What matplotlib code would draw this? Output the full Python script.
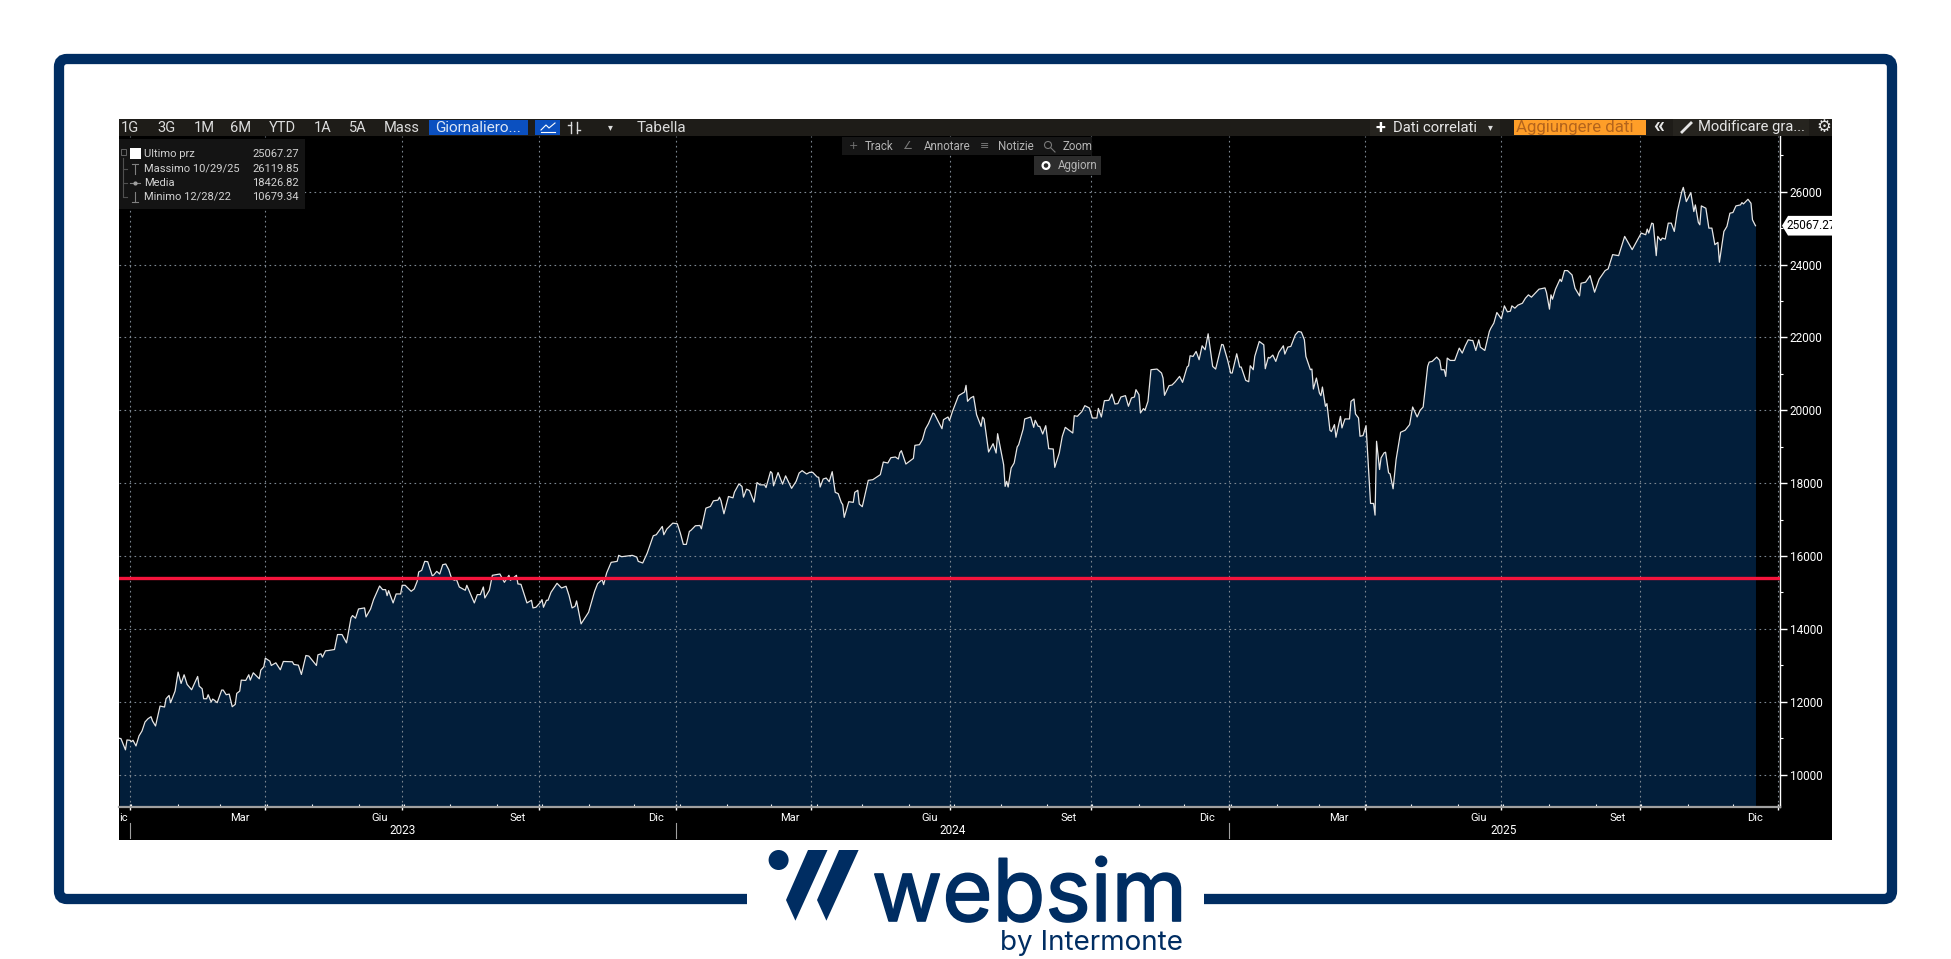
from datetime import date, timedelta
import matplotlib
matplotlib.use('Agg')
import matplotlib.pyplot as plt
import matplotlib.dates as mdates
import matplotlib.patheffects as pe
from matplotlib.patches import Rectangle, Polygon, Circle, FancyBboxPatch
from matplotlib.transforms import blended_transform_factory

# days since 2022-12-31 and index close
days = [-7, -6, -3, -2, 0, 1, 2, 4, 6, 8, 10, 12, 14, 15, 17, 20, 23, 24, 26, 27, 30, 32, 34, 36, 38, 41, 45, 46, 48, 49,
        51, 52, 54, 55, 56, 58, 61, 62, 64, 66, 68, 70, 71, 73, 74, 77, 79, 80, 82, 86, 87, 89, 90, 93, 94, 97, 100, 102,
        108, 109, 112, 114, 117, 119, 124, 125, 127, 128, 130, 132, 136, 138, 141, 144, 147, 148, 150, 152, 156, 157,
        160, 162, 166, 168, 170, 171, 172, 175, 177, 180, 181, 183, 187, 189, 191, 192, 194, 196, 198, 201, 202, 204,
        206, 208, 210, 212, 214, 216,
        217, 219, 223, 224, 229, 231, 233, 235, 236, 239, 241, 246, 249, 252, 253, 257, 258, 260, 264, 267, 268, 270,
        273, 274, 275, 277, 278, 280, 284, 287, 290, 292, 294, 296, 297, 300, 305, 309, 311, 314, 315, 317, 320, 324,
        325, 327, 334, 337, 338, 341, 344, 348, 350, 354, 355, 357, 361, 364, 366, 368, 370, 372, 373, 376, 379, 380,
        383, 386, 388, 391, 392, 393, 395, 398, 401, 402, 405, 407, 408, 410, 412, 415, 417, 419, 422, 423, 426, 427,
        428, 431, 434, 436,
        440, 443, 445, 447, 450, 452, 454, 457, 458, 459, 461, 463, 465, 467, 469, 471, 473, 474, 475, 478, 481, 482,
        484, 485, 487, 491, 494, 499, 501, 504, 506, 509, 511, 512, 513, 516, 521, 522, 525, 527, 529, 531, 534, 535,
        540, 541, 544, 545, 547, 551, 555, 556, 557, 559, 561, 563, 566, 567, 568, 571, 574, 576, 577, 581, 582, 583,
        584, 586, 588, 590, 591, 594, 595, 599, 601, 602, 604, 605, 607, 609, 611, 614, 615, 618, 620, 622, 627, 628,
        630, 633, 635, 638, 640, 643, 644, 646, 648, 651, 653,
        655, 657, 659, 662, 664, 666, 668, 669, 671, 672, 674, 675, 677, 679, 683, 686, 687, 688, 691, 693, 695, 698,
        700, 703, 704, 705, 707, 709, 711, 713, 715, 717, 720, 722, 726, 727, 730, 732, 733, 736, 738, 739, 742, 744,
        745, 747, 748, 751, 754, 755, 757, 758, 760, 762, 764, 767, 768, 770, 772, 775, 777, 779, 781, 782, 785, 786,
        787, 789, 791, 792, 793, 795, 796, 798, 799, 801, 802,
        805, 806, 808, 811, 812, 814, 815, 817, 818, 820, 822, 825, 827, 828, 829, 831, 832, 834, 835, 837, 838, 840,
        842, 845, 848, 851, 853, 856, 858, 860, 863, 864, 866, 869, 871, 872, 874, 875, 876, 878, 881, 884, 886, 888,
        890, 892, 893, 895, 897, 898, 901, 904, 905,
        907, 909, 912, 914, 916, 918, 919, 921, 923, 926, 928, 930, 932, 937, 941, 942, 944, 945, 946, 948, 951, 952,
        954, 956, 959, 961, 964, 965, 968, 971, 974, 977, 981,
        983, 986, 990, 994, 999, 1005, 1008, 1009, 1010, 1012, 1013, 1015, 1016, 1018, 1019, 1021, 1023, 1025, 1027,
        1029, 1032, 1033, 1035, 1038, 1040, 1041, 1043, 1044, 1045, 1048, 1050, 1052, 1054, 1056, 1057, 1060, 1062,
        1064, 1066, 1068, 1071, 1072, 1073, 1076, 1078, 1079, 1081]
values = [10996, 10987, 10679, 10950, 10941, 10904, 10941, 10786, 11060, 11197, 11443, 11534, 11589, 11470, 11334, 11881,
          11854, 12082, 12173, 11973, 12292, 12813, 12502, 12740, 12475, 12329, 12694, 12429, 12356, 12082, 12082, 12192,
          11991, 12073, 12046, 11973, 12320, 12320, 12192, 12210, 11863, 11927, 12228, 12292, 12593, 12584, 12740, 12593,
          12794, 12630, 12867, 12959, 13196, 13114, 12995, 13068, 12877, 13105, 13096, 13023, 13004, 12749, 13269, 13251,
          12995, 13287, 13315, 13223, 13397, 13406, 13433, 13844, 13844, 13616, 14301, 14365, 14292, 14547, 14575, 14328,
          14547, 14803, 15177, 15077, 15077, 14912, 15049, 14712, 14958, 14958, 15196, 15196, 15031, 15095, 15305, 15561,
          15606, 15853, 15844, 15460, 15478, 15579, 15506, 15762, 15780, 15625, 15369, 15333,
          15370, 15150, 15059, 15196, 14712, 14940, 14940, 15150, 14849, 15059, 15470, 15506, 15278, 15470, 15333, 15470,
          15233, 15223, 14712, 14785, 14575, 14593, 14730, 14803, 14593, 14785, 14785, 15004, 15251, 15123, 15169, 14913,
          14575, 14620, 14767, 14137, 14456, 15032, 15242, 15351, 15214, 15534, 15826, 15853, 16018, 15981, 16018, 15972,
          15853, 15808, 16082, 16556, 16584, 16812, 16584, 16739, 16903, 16885, 16629, 16319, 16319, 16675, 16702, 16830,
          16839, 16748, 17314, 17360, 17515, 17533, 17616, 17524, 17159, 17634, 17597, 17752, 17981, 17908, 17616, 17835,
          17798, 17479, 18017, 17953, 17953, 17880, 18319, 18273, 17926, 18291, 17972, 18200,
          17857, 18050, 18278, 18342, 18251, 18297, 18297, 18169, 18160, 17894, 18114, 18141, 18040, 18315, 17748, 17711,
          17473, 17409, 17061, 17491, 17473, 17748, 17803, 17427, 17354, 18077, 18095, 18233, 18580, 18553, 18699, 18718,
          18663, 18837, 18891, 18525, 18681, 19038, 19056, 19193, 19486, 19633, 19925, 19898, 19495, 19742, 19816, 19715,
          19971, 20401, 20502, 20685, 20246, 20337, 20383, 19880, 19559, 19816, 19761, 18855, 19084, 18827, 19358, 18507,
          17912, 18050, 17894, 18416, 18553, 18992, 19056, 19486, 19761, 19816, 19532, 19724, 19559, 19559, 19349, 19578,
          18946, 18937, 18434, 18827, 19285, 19532, 19376, 19852, 19834, 19962, 20127, 20063, 19788, 19788, 20053, 19816,
          20264, 20273, 20447,
          20173, 20183, 20365, 20402, 20110, 20338, 20365, 20566, 20429, 19927, 20046, 20000, 20247, 21114, 21132, 21023,
          20886, 20411, 20676, 20694, 20776, 20931, 20767, 21187, 21223, 21497, 21479, 21616, 21388, 21771, 21662, 22100,
          21205, 21132, 21808, 21799, 21370, 21023, 21023, 21552, 21187, 21187, 20822, 20785, 21223, 21114, 21479, 21890,
          21799, 21141, 21452, 21433, 21516, 21342, 21589, 21771, 21543, 21735, 21753, 22073, 22164, 22146, 21936, 21479,
          21114, 21132, 20584, 20886, 20475, 20402, 20639, 20110, 20183, 19452, 19416, 19607, 19260,
          19835, 19516, 19762, 19762, 20246, 20310, 19899, 19789, 19287, 19306, 19579, 17443, 17443, 17123, 19150, 18374,
          18694, 18831, 18849, 18283, 18256, 17845, 18648, 19397, 19452, 19607, 20091, 19817, 20000, 20091, 21205, 21323,
          21342, 21460, 21369, 21113, 21113, 20931, 21433, 21369, 21369, 21707, 21570, 21771, 21935, 21917, 21917, 21643,
          21935, 21734, 21643, 22163, 22254,
          22393, 22685, 22511, 22867, 22703, 22721, 22867, 22803, 22886, 22940, 23077, 23169, 23105, 23324, 23360, 23233,
          22776, 23169, 23050, 23324, 23598, 23534, 23835, 23835, 23716, 23351, 23141, 23488, 23516, 23698, 23242, 23598,
          23835,
          23882, 24273, 24246, 24774, 24410, 24865, 24819, 24974, 24865, 25138, 25119, 24246, 24774, 24664, 24728, 24701,
          25138, 25138, 24910, 25456, 26002, 26120, 25729, 25975, 25456, 25638, 25156, 25092, 25611, 25547, 25001, 25001,
          24546, 24610, 24064, 24910, 25047, 25411, 25429, 25611, 25638, 25702, 25665, 25793, 25684, 25229, 25067]
level_red = 15400
last_price = 25067.27

y_ticks = [10000, 12000, 14000, 16000, 18000, 20000, 22000, 24000, 26000]
quarter_ends = ['2023-03-31', '2023-06-30', '2023-09-29', '2023-12-29', '2024-03-28', '2024-06-28',
                '2024-09-30', '2024-12-31', '2025-03-31', '2025-06-30', '2025-09-30', '2025-12-31']
month_labels = ['Mar', 'Giu', 'Set', 'Dic', 'Mar', 'Giu', 'Set', 'Dic', 'Mar', 'Giu', 'Set', 'Dic']
month_label_days = ['2023-03-14', '2023-06-15', '2023-09-15', '2023-12-16', '2024-03-14', '2024-06-15',
                    '2024-09-15', '2024-12-16', '2025-03-14', '2025-06-15', '2025-09-15', '2025-12-16']
years = ['2023', '2024', '2025']
year_ends = ['2022-12-31', '2023-12-29', '2024-12-31', '2025-12-31']
range_buttons = ['1G', '3G', '1M', '6M', 'YTD', '1A', '5A', 'Mass']
legend_names = ['Ultimo prz', 'Massimo 10/29/25', 'Media', 'Minimo 12/28/22']
legend_values = ['25067.27', '26119.85', '18426.82', '10679.34']

NAVY = '#002d62'
FILL = '#021e3a'
FONT = 'Roboto'
W, H = 1951, 959

plt.rcParams['font.family'] = [FONT, 'DejaVu Sans']
fig = plt.figure(figsize=(W / 100, H / 100), dpi=100, facecolor='white')


def num(s):
    return mdates.date2num(date.fromisoformat(s))


# layer under the plot, pixel coordinates
back = fig.add_axes([0, 0, 1, 1], zorder=0)
back.set_xlim(0, W)
back.set_ylim(H, 0)
back.axis('off')
back.add_patch(Rectangle((119, 119), 1832 - 119, 840 - 119, color='black', lw=0))

# the plot itself
left, right, top, bottom = 119, 1780, 136, 807
ax = fig.add_axes([left / W, 1 - bottom / H, (right - left) / W, (bottom - top) / H], zorder=1, facecolor='black')
base = date(2022, 12, 31)
x = [mdates.date2num(base + timedelta(days=d)) for d in days]
ax.fill_between(x, values, 9110, color=FILL, lw=0, zorder=1)
ax.plot(x, values, color='#e6e6e6', lw=0.9, zorder=3)
ax.axhline(level_red, color='#f5143c', lw=2.4, zorder=4)
ax.set_xlim(mdates.date2num(base) - 7.3, mdates.date2num(base) + 1097.3)
ax.set_ylim(9110, 27530)

grid_x = [mdates.date2num(base)] + [num(q) for q in quarter_ends]
for g in grid_x:
    ax.axvline(g, color='#7d8791', lw=0.8, ls=(0, (1.5, 3)), zorder=2)
for t in y_ticks:
    ax.axhline(t, color='#7d8791', lw=0.8, ls=(0, (1.5, 3)), zorder=2)

ax.yaxis.tick_right()
ax.set_yticks(y_ticks)
ax.set_yticks(range(10000, 28000, 1000), minor=True)
ax.tick_params(axis='y', which='major', length=5, width=1, color='white', labelcolor='white', labelsize=8.5, pad=2)
ax.tick_params(axis='y', which='minor', length=2.5, width=0.8, color='white')
ax.set_xticks(grid_x)
ax.xaxis.set_minor_locator(mdates.MonthLocator(bymonthday=1))
ax.tick_params(axis='x', which='major', direction='inout', length=5, width=1, color='white', labelbottom=False)
ax.tick_params(axis='x', which='minor', direction='in', length=2.5, width=0.8, color='white')
for s in ['top', 'left']:
    ax.spines[s].set_visible(False)
ax.spines['right'].set_color('white')
ax.spines['right'].set_linewidth(1)
ax.spines['bottom'].set_color('#a0a0a0')
ax.spines['bottom'].set_linewidth(1.6)

# layer over the plot, pixel coordinates
over = fig.add_axes([0, 0, 1, 1], zorder=2)
over.set_xlim(0, W)
over.set_ylim(H, 0)
over.axis('off')
over.patch.set_alpha(0)
x_labels = blended_transform_factory(ax.transData, over.transData)
y_labels = blended_transform_factory(over.transData, ax.transData)

for name, d in zip(month_labels, month_label_days):
    over.text(num(d), 818, name, transform=x_labels, color='white', fontsize=8, ha='center', va='center')
over.text(128, 818, 'ic', color='white', fontsize=8, ha='right', va='center')
for i, name in enumerate(years):
    mid = (num(year_ends[i]) + num(year_ends[i + 1])) / 2
    over.text(mid, 831, name, transform=x_labels, color='white', fontsize=8.5, ha='center', va='center')
for e in year_ends[:-1]:
    over.plot([num(e), num(e)], [823, 838], transform=x_labels, color='#a0a0a0', lw=0.8)

# last price tag, cut by the edge of the chart
over.add_patch(Polygon([[1782, last_price], [1788, last_price + 270], [1840, last_price + 270],
                        [1840, last_price - 270], [1788, last_price - 270]],
                       closed=True, color='white', lw=0, transform=y_labels))
over.text(1786, last_price, '25067.27', transform=y_labels, color='black', fontsize=8.5, va='center', ha='left')
over.add_patch(Rectangle((1832, 200), 40, 50, color='white', lw=0, zorder=5))

# top toolbar
over.add_patch(Rectangle((119, 119), 1832 - 119, 17, color='#1e1c18', lw=0))
for name, bx in zip(range_buttons, [130, 167, 204, 241, 282, 323, 358, 402]):
    over.text(bx, 127.5, name, color='#dcdcdc', fontsize=10.5, ha='center', va='center')
over.add_patch(Rectangle((429, 120), 99, 15, color='#0b50c0', lw=0))
over.text(478, 127.5, 'Giornaliero...', color='#dce6f5', fontsize=11, ha='center', va='center')
over.add_patch(Rectangle((535, 120), 25, 15, color='#0b50c0', lw=0))
over.plot([541, 546, 549, 555], [130, 125, 128, 123], color='white', lw=0.8)
over.plot([541, 555], [132, 132], color='white', lw=0.8)
over.plot([571, 571], [122, 133], color='#dcdcdc', lw=1)
over.plot([577, 577], [122, 133], color='#dcdcdc', lw=1)
over.plot([568, 571], [125, 125], color='#dcdcdc', lw=1)
over.plot([577, 580], [130, 130], color='#dcdcdc', lw=1)
over.text(610, 127.5, '▾', color='#dcdcdc', fontsize=7, ha='center', va='center')
over.text(661, 127.5, 'Tabella', color='#dcdcdc', fontsize=11, ha='center', va='center')
over.add_patch(Rectangle((1370, 119), 130, 17, color='#26241f', lw=0))
over.text(1376, 127.5, '+', color='white', fontsize=13, fontweight='bold', ha='left', va='center')
over.text(1393, 127.5, 'Dati correlati', color='#e6e6e6', fontsize=10.7, ha='left', va='center')
over.text(1490, 127.5, '▾', color='#dcdcdc', fontsize=7, ha='center', va='center')
over.add_patch(Rectangle((1514, 120), 132, 15, color='#ff9e28', lw=0))
over.text(1516, 127.5, 'Aggiungere dati', color='#b4641c', fontsize=12.2, ha='left', va='center')
over.text(1659, 126, '«', color='#e6e6e6', fontsize=16, fontweight='bold', ha='center', va='center')
over.add_patch(Rectangle((1673, 119), 136, 17, color='#26241f', lw=0))
over.plot([1682, 1691], [132, 123], color='#e6e6e6', lw=2)
over.text(1698, 127.5, 'Modificare gra...', color='#e6e6e6', fontsize=10.6, ha='left', va='center')
over.text(1824, 127.5, '⚙', color='#e6e6e6', fontsize=12, ha='center', va='center', family='DejaVu Sans')

# floating buttons
over.add_patch(Rectangle((842, 137), 250, 18, color='#161616', lw=0))
for name, bx in zip(['Track', 'Annotare', 'Notizie', 'Zoom'], [865, 924, 998, 1063]):
    over.text(bx, 146, name, color='#b4b4b4', fontsize=8.3, ha='left', va='center')
for ic, bx in zip(['+', '∠', '≡'], [853, 907, 985]):
    over.text(bx, 146, ic, color='#787878', fontsize=8, ha='center', va='center', family='DejaVu Sans')
over.add_patch(Circle((1048, 145), 3.5, fc='none', ec='#787878', lw=0.8))
over.plot([1051, 1055], [148, 152], color='#787878', lw=0.8)
over.add_patch(Rectangle((1034, 156), 67, 19, color='#2c2c2c', lw=0))
over.add_patch(Circle((1046, 165.5), 3.4, fc='#2c2c2c', ec='white', lw=1.6))
over.text(1058, 165.5, 'Aggiorn', color='#b4b4b4', fontsize=8.3, ha='left', va='center')

# legend block
over.add_patch(Rectangle((119, 139), 186, 70, color='#141414', lw=0))
for name, val, ly in zip(legend_names, legend_values, [154, 169, 183, 197]):
    over.text(144, ly, name, color='#d2d2d2', fontsize=8, ha='left', va='center')
    over.text(299, ly, val, color='#d2d2d2', fontsize=8, ha='right', va='center')
over.add_patch(Rectangle((130, 148), 11, 11, color='white', lw=0))
over.plot([123, 123], [158, 196], color='#505050', lw=0.8)
over.add_patch(Rectangle((121, 149), 5, 6, fc='none', ec='#646464', lw=0.7))
for ly in [169, 183, 197]:
    over.plot([123, 127], [ly, ly], color='#505050', lw=0.8)
over.plot([130, 140], [183, 183], color='#808080', lw=0.8)
over.plot([135], [183], marker='o', ms=2, color='#a0a0a0')
over.plot([132, 138], [164, 164], color='#808080', lw=0.8)
over.plot([135, 135], [164, 174], color='#808080', lw=0.8)
over.plot([132, 138], [202, 202], color='#808080', lw=0.8)
over.plot([135, 135], [192, 202], color='#808080', lw=0.8)

# outer frame, open at the logo
frame = FancyBboxPatch((59, 59), 1833, 840, boxstyle='round,pad=0,rounding_size=8',
                       fc='none', ec=NAVY, lw=7.4, zorder=3)
over.add_patch(frame)
over.add_patch(Rectangle((747, 885), 457, 30, color='white', lw=0, zorder=4))

# logo
over.add_patch(Circle((778.6, 860), 10, color=NAVY, lw=0, zorder=5))
over.add_patch(Polygon([[808, 850], [827.5, 850], [795.4, 920.7], [786, 900]], color=NAVY, lw=0, zorder=5))
over.add_patch(Polygon([[839, 850], [858.6, 850], [826.4, 920.7], [817, 900]], color=NAVY, lw=0, zorder=5))
over.text(1187, 921, 'websim', color=NAVY, fontsize=62, family='Inter', ha='right', va='baseline', zorder=5,
          path_effects=[pe.withStroke(linewidth=1.2, foreground=NAVY)])
over.text(1183, 950, 'by Intermonte', color=NAVY, fontsize=20, family='Inter', ha='right', va='baseline', zorder=6)

fig.savefig('out.png', dpi=100)
